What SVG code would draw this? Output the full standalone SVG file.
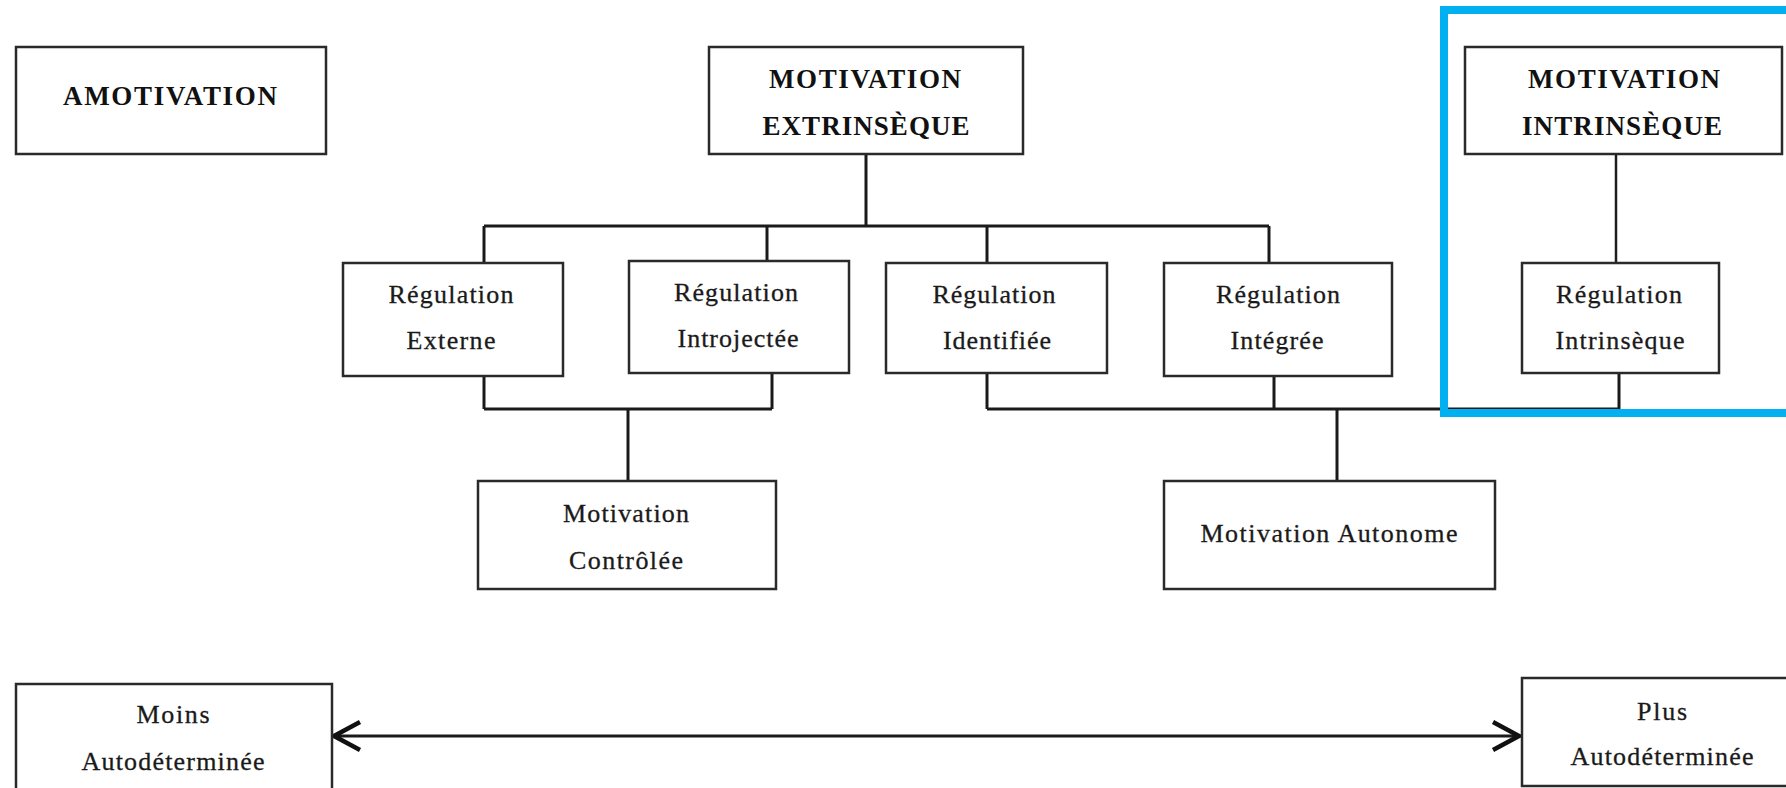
<svg xmlns="http://www.w3.org/2000/svg" width="1786" height="788" viewBox="0 0 1786 788">
<defs>
<style>
.box{fill:#fff;stroke:#2a2a2a;stroke-width:2.5}
.ln{fill:none;stroke:#1e1e1e;stroke-width:2.5}
.bus{fill:none;stroke:#1a1a1a;stroke-width:3}
.t{font-family:"Liberation Serif","Times New Roman",serif;font-size:26px;fill:#1a1a1a;text-anchor:middle;stroke:#1a1a1a;stroke-width:0.3}
.b{font-family:"Liberation Serif","Times New Roman",serif;font-size:27px;font-weight:bold;fill:#111;text-anchor:middle}
</style>
<marker id="chev" viewBox="0 0 30 32" refX="28" refY="16" markerWidth="30" markerHeight="32" markerUnits="userSpaceOnUse" orient="auto-start-reverse">
<path d="M2,2 L28,16 L2,30" fill="none" stroke="#111" stroke-width="4.5" stroke-linejoin="miter"/>
</marker>
</defs>
<rect width="1786" height="788" fill="#fff"/>

<g id="connectors">
<path class="bus" d="M866,154 V226 M484,226 H1269 M484,226 V263 M767,226 V261 M987,226 V263 M1269,226 V263"/>
<path class="ln" d="M1616,154 V263"/>
<path class="bus" d="M484,376 V409 M772,373 V409 M484,409 H772 M628,409 V481"/>
<path class="bus" d="M987,373 V409 M1274,376 V409 M1619,373 V409 M987,409 H1619 M1337,409 V481"/>
<line class="bus" x1="334" y1="736" x2="1519" y2="736" stroke-width="3.5" marker-start="url(#chev)" marker-end="url(#chev)"/>
</g>

<g id="amotivation">
<rect class="box" x="16" y="47" width="310" height="107"/>
<text class="b" x="170" y="105" textLength="214" lengthAdjust="spacing">AMOTIVATION</text>
</g>

<g id="motivation-extrinseque">
<rect class="box" x="709" y="47" width="314" height="107"/>
<text class="b" x="865" y="88" textLength="192" lengthAdjust="spacing">MOTIVATION</text>
<text class="b" x="866" y="135" textLength="207" lengthAdjust="spacing">EXTRINSÈQUE</text>
</g>

<g id="motivation-intrinseque">
<rect class="box" x="1465" y="47" width="317" height="107"/>
<text class="b" x="1624" y="88" textLength="192" lengthAdjust="spacing">MOTIVATION</text>
<text class="b" x="1622" y="135" textLength="200" lengthAdjust="spacing">INTRINSÈQUE</text>
</g>

<g id="regulation-externe">
<rect class="box" x="343" y="263" width="220" height="113"/>
<text class="t" x="451" y="303" textLength="125" lengthAdjust="spacing">Régulation</text>
<text class="t" x="451" y="349" textLength="89" lengthAdjust="spacing">Externe</text>
</g>

<g id="regulation-introjectee">
<rect class="box" x="629" y="261" width="220" height="112"/>
<text class="t" x="736" y="301" textLength="124" lengthAdjust="spacing">Régulation</text>
<text class="t" x="738" y="347" textLength="121" lengthAdjust="spacing">Introjectée</text>
</g>

<g id="regulation-identifiee">
<rect class="box" x="886" y="263" width="221" height="110"/>
<text class="t" x="994" y="303" textLength="123" lengthAdjust="spacing">Régulation</text>
<text class="t" x="997" y="349" textLength="108" lengthAdjust="spacing">Identifiée</text>
</g>

<g id="regulation-integree">
<rect class="box" x="1164" y="263" width="228" height="113"/>
<text class="t" x="1278" y="303" textLength="124" lengthAdjust="spacing">Régulation</text>
<text class="t" x="1277" y="349" textLength="93" lengthAdjust="spacing">Intégrée</text>
</g>

<g id="regulation-intrinseque">
<rect class="box" x="1522" y="263" width="197" height="110"/>
<text class="t" x="1619" y="303" textLength="126" lengthAdjust="spacing">Régulation</text>
<text class="t" x="1620" y="349" textLength="129" lengthAdjust="spacing">Intrinsèque</text>
</g>

<g id="motivation-controlee">
<rect class="box" x="478" y="481" width="298" height="108"/>
<text class="t" x="626" y="522" textLength="126" lengthAdjust="spacing">Motivation</text>
<text class="t" x="626" y="569" textLength="114" lengthAdjust="spacing">Contrôlée</text>
</g>

<g id="motivation-autonome">
<rect class="box" x="1164" y="481" width="331" height="108"/>
<text class="t" x="1329" y="542" textLength="257" lengthAdjust="spacing">Motivation Autonome</text>
</g>

<g id="moins-autodeterminee">
<rect class="box" x="16" y="684" width="316" height="120"/>
<text class="t" x="173" y="723" textLength="73" lengthAdjust="spacing">Moins</text>
<text class="t" x="173" y="770" textLength="183" lengthAdjust="spacing">Autodéterminée</text>
</g>

<g id="plus-autodeterminee">
<rect class="box" x="1522" y="678" width="280" height="108"/>
<text class="t" x="1662" y="720" textLength="50" lengthAdjust="spacing">Plus</text>
<text class="t" x="1662" y="765" textLength="183" lengthAdjust="spacing">Autodéterminée</text>
</g>

<g id="highlight">
<rect x="1444" y="10" width="350" height="403" fill="none" stroke="#00B0F0" stroke-width="8"/>
</g>
</svg>
